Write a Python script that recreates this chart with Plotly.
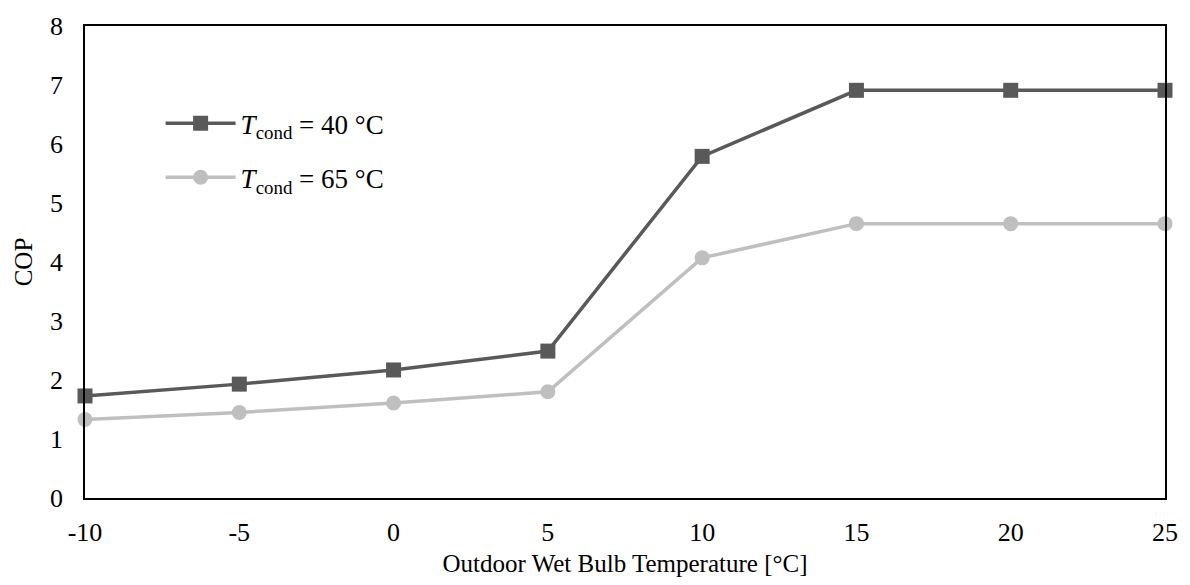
import plotly.graph_objects as go

temps = [-10, -5, 0, 5, 10, 15, 20, 25]
cop_40 = [1.73, 1.93, 2.17, 2.49, 5.79, 6.91, 6.91, 6.91]
cop_65 = [1.33, 1.45, 1.61, 1.80, 4.07, 4.65, 4.65, 4.65]
x_ticks = [-10, -5, 0, 5, 10, 15, 20, 25]
x_tick_labels = ["-10", "-5", "0", "5", "10", "15", "20", "25"]
y_ticks = [0, 1, 2, 3, 4, 5, 6, 7, 8]

FONT = "Liberation Serif, Times New Roman, serif"

fig = go.Figure()
fig.add_trace(go.Scatter(
    x=temps, y=cop_40, mode="lines+markers",
    name="<i>T</i><sub>cond</sub> = 40 °C", legendgroup="a",
    line=dict(color="#595959", width=3.5),
    marker=dict(symbol="square", size=15, color="#595959"),
    cliponaxis=False,
))
fig.add_trace(go.Scatter(
    x=temps, y=cop_65, mode="lines+markers",
    name="<i>T</i><sub>cond</sub> = 65 °C", legendgroup="b",
    line=dict(color="#BFBFBF", width=3.5),
    marker=dict(symbol="circle", size=15, color="#BFBFBF"),
    cliponaxis=False,
))

fig.update_layout(
    width=1190, height=585,
    margin=dict(l=85, r=20, t=20, b=86),
    paper_bgcolor="white", plot_bgcolor="white",
    font=dict(family=FONT, size=26, color="black"),
    showlegend=True,
    legend=dict(
        x=0.07, y=0.845, xanchor="left", yanchor="top",
        font=dict(family=FONT, size=27, color="black"),
        bgcolor="rgba(0,0,0,0)", itemwidth=70,
        traceorder="grouped", tracegroupgap=16,
    ),
    xaxis=dict(
        range=[-10, 25], tickvals=x_ticks, ticktext=x_tick_labels,
        ticks="outside", ticklen=10, tickcolor="rgba(0,0,0,0)",
        showgrid=False, zeroline=False,
        showline=True, linecolor="black", linewidth=1.5, mirror=True,
        tickfont=dict(family=FONT, size=26),
        title=dict(text="Outdoor Wet Bulb Temperature [°C]", font=dict(family=FONT, size=25), standoff=9),
    ),
    yaxis=dict(
        range=[0, 8], tickvals=y_ticks,
        ticks="outside", ticklen=15, tickcolor="rgba(0,0,0,0)",
        showgrid=False, zeroline=False,
        showline=True, linecolor="black", linewidth=1.5, mirror=True,
        tickfont=dict(family=FONT, size=26),
        title=dict(text="COP", font=dict(family=FONT, size=25), standoff=10),
    ),
)

fig.write_html("out.html")
